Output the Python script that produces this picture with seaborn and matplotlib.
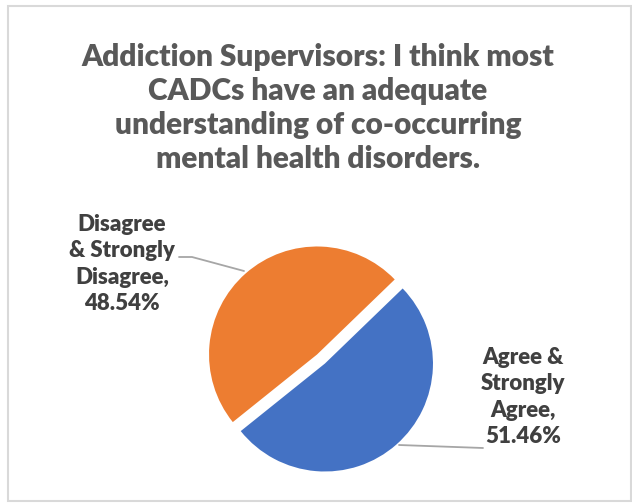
import matplotlib
matplotlib.use("Agg")
import matplotlib.pyplot as plt
from matplotlib.patches import Rectangle
import seaborn as sns

# Survey response shares
categories = ["Agree & Strongly Agree", "Disagree & Strongly Disagree"]
shares = [51.46, 48.54]
label_texts = ["Agree &\nStrongly\nAgree,\n51.46%", "Disagree\n& Strongly\nDisagree,\n48.54%"]
title_text = ("Addiction Supervisors: I think most\nCADCs have an adequate\n"
              "understanding of co-occurring\nmental health disorders.")

sns.set_theme(style="white")
plt.rcParams["font.family"] = ["Lato", "DejaVu Sans"]
colors = ["#4472C4", "#ED7D31"]

W, H = 632, 504
fig = plt.figure(figsize=(W / 100, H / 100), dpi=100)
ax = fig.add_axes([0, 0, 1, 1])

# chart frame
ax.add_patch(Rectangle((8, H - 501), 623, 495, fill=False, edgecolor="#D9D9D9", lw=1.5))

cx, cy, r = 321, H - 359, 108
ax.pie(shares, colors=colors, startangle=44, counterclock=False,
       explode=[6, 6], center=(cx, cy), radius=r,
       wedgeprops=dict(linewidth=0), frame=True)
ax.set_xlim(0, W)
ax.set_ylim(0, H)
ax.set_aspect("equal")
ax.axis("off")

ax.text(W / 2 + 2, H - 108, title_text, ha="center", va="center", fontsize=21.5,
        fontweight="heavy", color="#595959", linespacing=1.25)

lab_kw = dict(ha="center", va="center", fontsize=16, fontweight="heavy",
              color="#404040", linespacing=1.3)
ax.text(523, H - 397, label_texts[0], **lab_kw)
ax.text(122, H - 264, label_texts[1], **lab_kw)

# leader lines
lc = "#A6A6A6"
ax.plot([399, 483], [H - 445, H - 448], color=lc, lw=1.3)
ax.plot([179, 192, 244], [H - 257, H - 257, H - 271], color=lc, lw=1.3)

fig.savefig("out.png", dpi=100, facecolor="white")
